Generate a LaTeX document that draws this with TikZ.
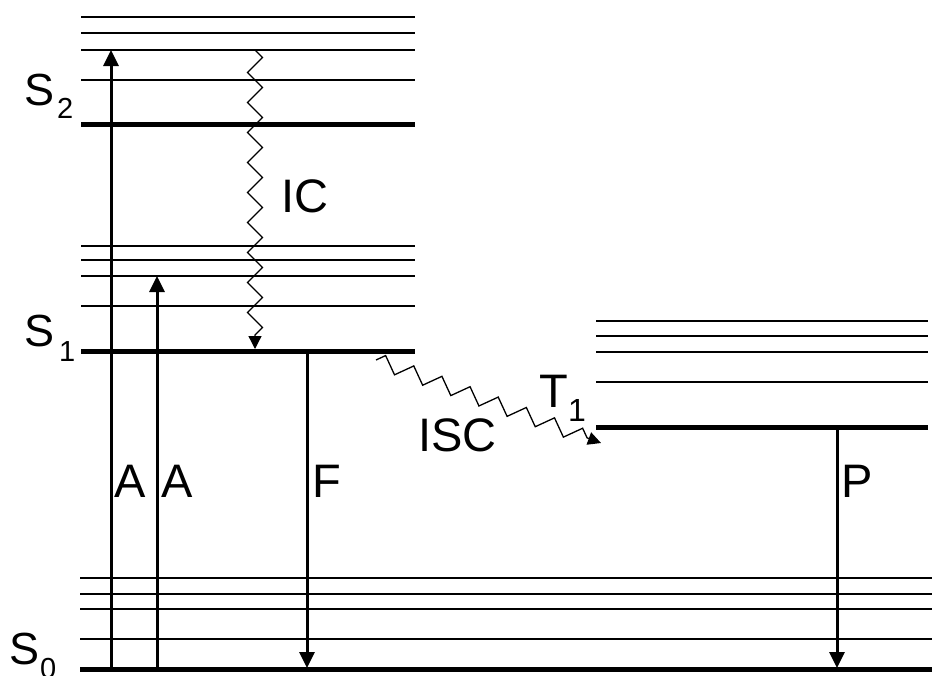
\documentclass[tikz,border=0pt]{standalone}
\usepackage{fontspec}
\setmainfont{Liberation Sans}
\usetikzlibrary{arrows.meta,decorations.pathmorphing}
\begin{document}
\begin{tikzpicture}[x=1pt,y=-1pt,
  lvl/.style={line width=2pt},
  lvlthick/.style={line width=5pt},
  trans/.style={line width=3pt,-{Triangle[width=15pt,length=16pt]}},
  wavy/.style={line width=1.3pt,-{Triangle[width=13pt,length=13pt]},
    decorate,decoration={zigzag,segment length=30pt,amplitude=7.5pt,post length=9pt}},
  lbl/.style={inner sep=0pt,anchor=base west,font=\fontsize{47}{50}\selectfont},
  slbl/.style={inner sep=0pt,anchor=base west,font=\fontsize{45}{48}\selectfont},
  sub/.style={inner sep=0pt,anchor=base west,font=\fontsize{29}{30}\selectfont}]
\useasboundingbox (0,0) rectangle (932,675);
% S2 manifold
\foreach \y in {17,33,50,80} \draw[lvl] (81,\y) -- (415,\y);
\draw[lvlthick] (81,124) -- (415,124);
% S1 manifold
\foreach \y in {246,260,276,306} \draw[lvl] (81,\y) -- (415,\y);
\draw[lvlthick] (81,351) -- (415,351);
% T1 manifold
\foreach \y in {321,336,352,382} \draw[lvl] (596,\y) -- (928,\y);
\draw[lvlthick] (596,427) -- (928,427);
% S0 manifold
\foreach \y in {578,594,609,639} \draw[lvl] (80,\y) -- (932,\y);
\draw[lvlthick] (80,669) -- (932,669);
% endpoints
\coordinate (a1s) at (111,669); \coordinate (a1e) at (111,50);
\coordinate (a2s) at (157,669); \coordinate (a2e) at (157,276);
\coordinate (fs) at (307,351);  \coordinate (fe) at (307,668);
\coordinate (ps) at (837,427);  \coordinate (pe) at (837,668);
\coordinate (ics) at (255,50);  \coordinate (ice) at (255,349);
\coordinate (iscs) at (376,360); \coordinate (isce) at (601,443);
% transitions
\draw[trans] (a1s) -- (a1e);
\draw[trans] (a2s) -- (a2e);
\draw[trans] (fs) -- (fe);
\draw[trans] (ps) -- (pe);
\draw[wavy] (ics) -- (ice);
\draw[wavy] (iscs) -- (isce);
% labels
\node[lbl] (lA1) at (114,497) {A};
\node[lbl] (lA2) at (161,497) {A};
\node[lbl] (lF) at (312,497) {F};
\node[lbl] (lP) at (841,497) {P};
\node[lbl] (lIC) at (281,212) {IC};
\node[lbl] (lISC) at (418,451) {ISC};
\node[lbl] (lT) at (539,407) {T};
\node[inner sep=0pt,anchor=base west,font=\fontsize{32}{34}\selectfont] (lT1) at (568,421) {1};
\node[slbl] (lS2) at (24,105) {S};
\node[sub] (lS2s) at (57,118) {2};
\node[slbl] (lS1) at (24,346) {S};
\node[sub] (lS1s) at (59,361) {1};
\node[slbl] (lS0) at (9,664) {S};
\node[sub] (lS0s) at (40,678) {0};
\end{tikzpicture}
\end{document}
